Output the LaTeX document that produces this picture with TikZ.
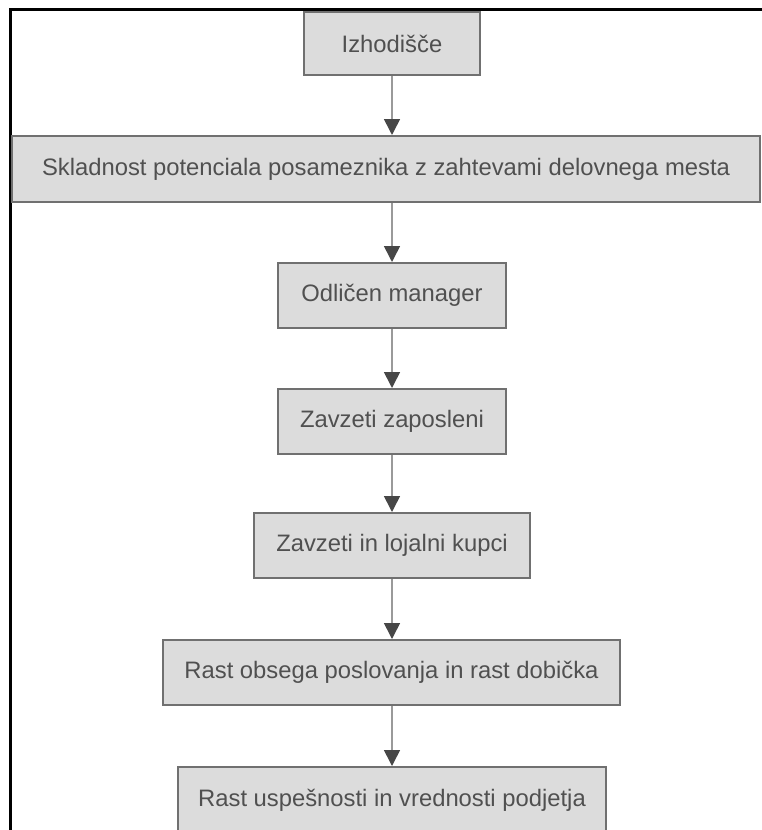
\documentclass[tikz,border=0pt]{standalone}
\usepackage{fontspec}
\setmainfont{Liberation Sans}
\usetikzlibrary{arrows.meta}
\definecolor{boxfill}{HTML}{DCDCDC}
\definecolor{boxline}{HTML}{707070}
\definecolor{txt}{HTML}{505050}
\definecolor{linkline}{HTML}{9A9A9A}
\definecolor{tipcol}{HTML}{474747}
\begin{document}
\begin{tikzpicture}[x=1pt,y=1pt,
  stage/.style={draw=boxline, line width=2pt, fill=boxfill, text=txt,
    rectangle, inner sep=0pt, minimum height=65pt,
    font=\fontsize{23.8}{28}\selectfont},
  link/.style={draw=linkline, line width=1.6pt,
    -{Triangle[width=16pt,length=16pt,fill=tipcol,color=tipcol]}}]
\useasboundingbox (0,0) rectangle (761,-830);
\fill[white] (0,0) rectangle (761,-830);

% frame on top and left
\draw[line width=3pt] (10.5,-832) -- (10.5,-9.5) -- (762,-9.5);

% chain of stages
\node[stage, minimum width=176pt, minimum height=63pt] (b1) at (392,-43.5) {Izhodišče};
\node[stage, minimum width=748pt, minimum height=66pt] (b2) at (386,-169) {Skladnost potenciala posameznika z zahtevami delovnega mesta};
\node[stage, minimum width=228pt] (b3) at (392,-295.5) {Odličen manager};
\node[stage, minimum width=228pt] (b4) at (392,-421.5) {Zavzeti zaposleni};
\node[stage, minimum width=276pt] (b5) at (392,-545.5) {Zavzeti in lojalni kupci};
\node[stage, minimum width=457pt] (b6) at (391.5,-672.5) {Rast obsega poslovanja in rast dobička};
\node[stage, minimum width=428pt, minimum height=66pt] (b7) at (392,-800) {Rast uspešnosti in vrednosti podjetja};

% arrows between stages
\draw[link] (b1.south) -- (b1.south |- b2.north);
\draw[link] (b3 |- b2.south) -- (b3.north);
\draw[link] (b3.south) -- (b4.north);
\draw[link] (b4.south) -- (b5.north);
\draw[link] (b5.south) -- (b5.south |- b6.north);
\draw[link] (b5.south |- b6.south) -- (b5.south |- b7.north);
\end{tikzpicture}
\end{document}
